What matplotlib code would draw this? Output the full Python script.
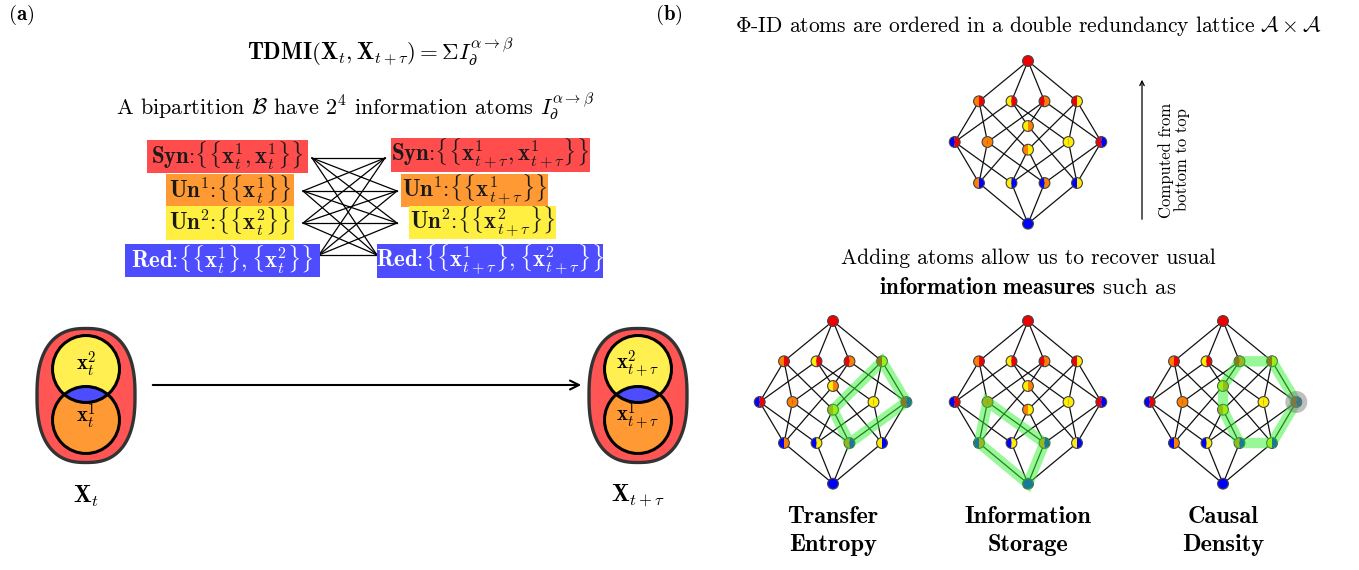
import numpy as np
import matplotlib
matplotlib.use("Agg")
import matplotlib.pyplot as plt
from matplotlib.patches import Wedge, Circle, Rectangle, Polygon, FancyArrowPatch

plt.rcParams['mathtext.fontset'] = 'cm'
plt.rcParams['font.family'] = 'serif'
plt.rcParams['font.serif'] = ['cmr10', 'DejaVu Serif']
plt.rcParams['axes.unicode_minus'] = False

# ---- data -------------------------------------------------------------
# atom colours (left half | right half) for the 16 lattice nodes
# order: top, rank3 x4, rank2 x6 (far-left, left, centre-up, centre-low, right, far-right), rank1 x4, bottom
C = {'S': '#f00000', 'U1': '#ff8000', 'U2': '#ffee00', 'R': '#0000ff'}
top_colors = [('S', 'S'),
              ('U1', 'S'), ('U2', 'S'), ('S', 'U1'), ('S', 'U2'),
              ('R', 'S'), ('U1', 'U1'), ('U2', 'U1'), ('U1', 'U2'), ('U2', 'U2'), ('S', 'R'),
              ('U1', 'R'), ('U2', 'R'), ('R', 'U1'), ('R', 'U2'),
              ('R', 'R')]
small_colors = top_colors[:11] + [('R', 'U1'), ('R', 'U2'), ('U1', 'R'), ('U2', 'R'), ('R', 'R')]

edges = [(0, 1), (0, 2), (0, 3), (0, 4),
         (1, 5), (1, 6), (1, 8), (2, 5), (2, 7), (2, 9),
         (3, 6), (3, 7), (3, 10), (4, 8), (4, 9), (4, 10),
         (5, 11), (5, 12), (6, 11), (6, 13), (7, 11), (7, 14),
         (8, 12), (8, 13), (9, 12), (9, 14), (10, 13), (10, 14),
         (11, 15), (12, 15), (13, 15), (14, 15)]

measures = ["Transfer\nEntropy", "Information\nStorage", "Causal\nDensity"]
highlights = [[4, 10, 13, 8],
              [6, 11, 15, 13],
              [7, 3, 4, 10, 14, 13, 8]]
gray_node = [None, None, 10]

left_boxes = [(r"$\mathbf{Syn}$", r"$\{\{\mathbf{x}^1_t,\mathbf{x}^1_t\}\}$"),
              (r"$\mathbf{Un}^1$", r"$\{\{\mathbf{x}^1_t\}\}$"),
              (r"$\mathbf{Un}^2$", r"$\{\{\mathbf{x}^2_t\}\}$"),
              (r"$\mathbf{Red}$", r"$\{\{\mathbf{x}^1_t\},\{\mathbf{x}^2_t\}\}$")]
right_boxes = [(r"$\mathbf{Syn}$", r"$\{\{\mathbf{x}^1_{t+\tau},\mathbf{x}^1_{t+\tau}\}\}$"),
               (r"$\mathbf{Un}^1$", r"$\{\{\mathbf{x}^1_{t+\tau}\}\}$"),
               (r"$\mathbf{Un}^2$", r"$\{\{\mathbf{x}^2_{t+\tau}\}\}$"),
               (r"$\mathbf{Red}$", r"$\{\{\mathbf{x}^1_{t+\tau}\},\{\mathbf{x}^2_{t+\tau}\}\}$")]
box_colors = ['#ff4d4d', '#ff9933', '#ffef40', '#4d4dff']
box_text_colors = ['#1a1a1a', '#1a1a1a', '#1a1a1a', 'white']

# ---- layout -------------------------------------------------------------
left_rects = [(147, 140, 308, 173), (166, 174, 294, 207), (166, 206, 294, 240), (125, 244, 320, 277)]
right_rects = [(391, 138, 590, 172), (401, 174, 548, 207), (409, 206, 556, 239), (377, 244, 603, 278)]
left_anchor = [(312, 158), (303, 191), (303, 223), (319, 255)]
right_anchor = [(385, 158), (397, 191), (397, 223), (377, 255)]

node_dx = [0, -49, -16.5, 16.5, 49, -73.3, -40.5, 0, 0, 40.5, 73.3, -49, -16.5, 16.5, 49, 0]
node_dy = [0, 40.3, 40.3, 40.3, 40.3, 81, 81, 65, 88.7, 81, 81, 122, 122, 122, 122, 162.7]
R_NODE = 5.4

fig = plt.figure(figsize=(13.59, 5.70), dpi=100)
ax = fig.add_axes([0, 0, 1, 1])
ax.set_xlim(0, 1359)
ax.set_ylim(570, 0)
ax.axis('off')


def draw_lattice(cx, ty, colors, hl=None, gray=None):
    xs = [cx + d for d in node_dx]
    ys = [ty + d for d in node_dy]
    for i, j in edges:
        ax.plot([xs[i], xs[j]], [ys[i], ys[j]], color='#111111', lw=0.9, zorder=2)
    for k, (a, b) in enumerate(colors):
        ax.add_patch(Wedge((xs[k], ys[k]), R_NODE, 90, 270, facecolor=C[a], edgecolor='none', zorder=3))
        ax.add_patch(Wedge((xs[k], ys[k]), R_NODE, 270, 90, facecolor=C[b], edgecolor='none', zorder=3))
        ax.add_patch(Circle((xs[k], ys[k]), R_NODE, facecolor='none', edgecolor='#444444', lw=0.8, zorder=4))
    if hl is not None:
        pts = [(xs[k], ys[k]) for k in hl]
        ax.add_patch(Polygon(pts, closed=True, fill=False, edgecolor=(0.2, 0.95, 0.2, 0.5),
                             lw=7.5, joinstyle='miter', zorder=5))
    if gray is not None:
        ax.add_patch(Circle((xs[gray], ys[gray]), 11, facecolor=(0.45, 0.45, 0.45, 0.45),
                            edgecolor='none', zorder=6))


def superellipse(cx, cy, a, b, n=2.5):
    t = np.linspace(0, 2 * np.pi, 200)
    x = cx + a * np.sign(np.cos(t)) * np.abs(np.cos(t)) ** (2 / n)
    y = cy + b * np.sign(np.sin(t)) * np.abs(np.sin(t)) ** (2 / n)
    return np.column_stack([x, y])


def draw_venn(cx, lab_top, lab_bot, big_lab):
    ax.add_patch(Polygon(superellipse(cx, 395.5, 49, 67), closed=True, facecolor='#ff5555',
                         edgecolor='#333333', lw=2.4, zorder=2))
    up = Circle((cx, 369), 33.5, facecolor='#ffef50', edgecolor='none', zorder=3)
    lo = Circle((cx, 420), 33.5, facecolor='#ff9933', edgecolor='none', zorder=3)
    ax.add_patch(up)
    ax.add_patch(lo)
    lens = Circle((cx, 369), 33.5, facecolor='#4d4dff', edgecolor='none', zorder=4)
    ax.add_patch(lens)
    lens.set_clip_path(lo)
    for cy in (369, 420):
        ax.add_patch(Circle((cx, cy), 33.5, facecolor='none', edgecolor='black', lw=2.2, zorder=5))
    ax.text(cx, 364, lab_top, fontsize=15, ha='center', va='center', zorder=6)
    ax.text(cx, 416, lab_bot, fontsize=15, ha='center', va='center', zorder=6)
    ax.text(cx, 496, big_lab, fontsize=17, ha='center', va='center')


# ---- panel (a) ----------------------------------------------------------
ax.text(8, 15, r"$\mathbf{(a)}$", fontsize=15, ha='left', va='center')
ax.text(380, 52, r"$\mathbf{TDMI}(\mathbf{X}_t,\mathbf{X}_{t+\tau})=\Sigma I_\partial^{\alpha\to\beta}$",
        fontsize=16.5, ha='center', va='center')
ax.text(355, 106, r"A bipartition $\mathcal{B}$ have $2^4$ information atoms $I_\partial^{\alpha\to\beta}$",
        fontsize=16, ha='center', va='center')

for p in left_anchor:
    for q in right_anchor:
        ax.plot([p[0], q[0]], [p[1], q[1]], color='black', lw=0.9, zorder=1)

for rects, labels in ((left_rects, left_boxes), (right_rects, right_boxes)):
    for (x0, y0, x1, y1), (name, body), fc, tc in zip(rects, labels, box_colors, box_text_colors):
        ax.add_patch(Rectangle((x0, y0), x1 - x0, y1 - y0, facecolor=fc, edgecolor='none', zorder=2))
        ax.text((x0 + x1) / 2, (y0 + y1) / 2 - 1, name + ":" + body, fontsize=16.5, color=tc,
                ha='center', va='center', zorder=3)

draw_venn(86, r"$\mathbf{x}^2_t$", r"$\mathbf{x}^1_t$", r"$\mathbf{X}_t$")
draw_venn(638, r"$\mathbf{x}^2_{t+\tau}$", r"$\mathbf{x}^1_{t+\tau}$", r"$\mathbf{X}_{t+\tau}$")
ax.add_patch(FancyArrowPatch((150, 385), (584, 385), arrowstyle='->', mutation_scale=16,
                             color='black', lw=1.5))

# ---- panel (b) ----------------------------------------------------------
ax.text(655, 15, r"$\mathbf{(b)}$", fontsize=15, ha='left', va='center')
ax.text(1028, 26, r"$\Phi$-ID atoms are ordered in a double redundancy lattice $\mathcal{A}\times\mathcal{A}$",
        fontsize=15.5, ha='center', va='center')
draw_lattice(1028, 61, top_colors)
ax.add_patch(FancyArrowPatch((1142, 222), (1142, 77), arrowstyle='->', mutation_scale=8,
                             color='black', lw=0.9))
ax.text(1174, 160, "Computed from\nbottom to top", fontsize=12, rotation=90,
        ha='center', va='center', linespacing=1.0)
ax.text(1028, 258, "Adding atoms allow us to recover usual", fontsize=15.5, ha='center', va='center')
ax.text(1028, 287, r"$\mathbf{information\ measures}$ such as", fontsize=16.5, ha='center', va='center')

for cx, name, hl, g in zip([833, 1028, 1223], measures, highlights, gray_node):
    draw_lattice(cx, 321, small_colors, hl, g)
    ax.text(cx, 531, name, fontsize=17.5, fontfamily='cmb10', ha='center', va='center',
            linespacing=1.3)

fig.savefig("out.png", dpi=100)
